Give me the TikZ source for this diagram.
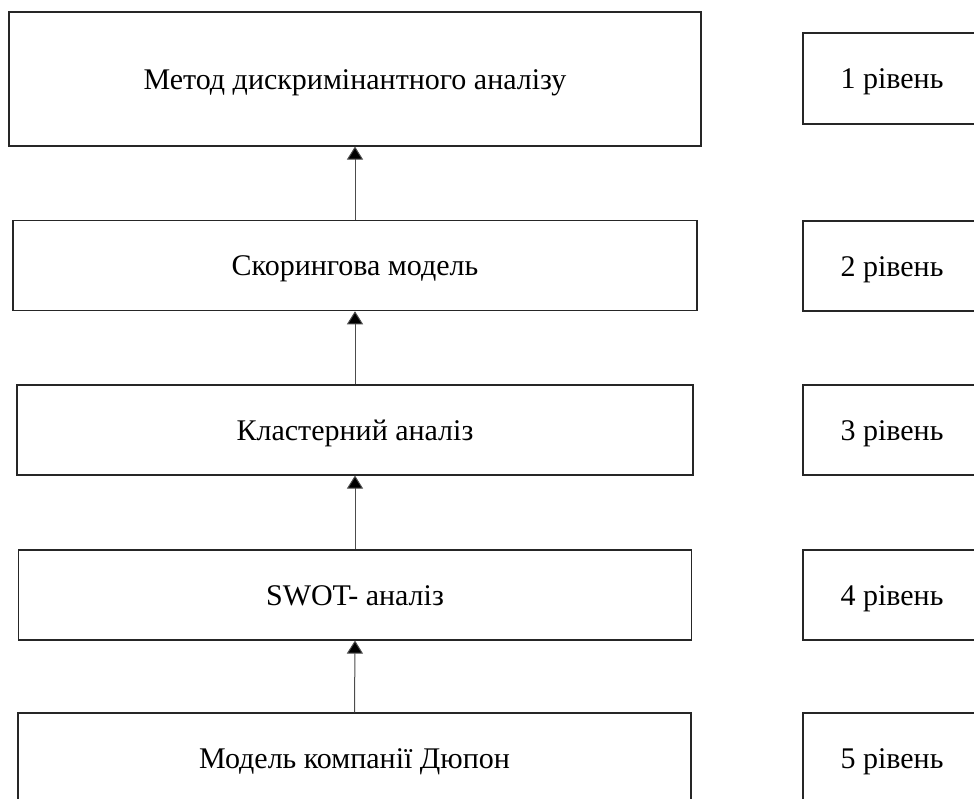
\documentclass[tikz,border=0pt]{standalone}
\usepackage{fontspec}
\setmainfont{Liberation Serif}
\usetikzlibrary{arrows.meta}
\begin{document}
\begin{tikzpicture}[x=1pt,y=-1pt,
  box/.style={draw=black!85, line width=1.1pt, fill=white, inner sep=0pt,
    font=\fontsize{30}{36}\selectfont, text height=20pt, text depth=0pt},
  levelbox/.style={box, minimum width=178, minimum height=90},
  link/.style={draw=black!70, line width=1pt,
    -{Triangle[width=16pt,length=13pt,fill=black]}}]
  \useasboundingbox (0,0) rectangle (974,798);
  \clip (0,0) rectangle (974,798);

  % method column
  \node[box, minimum width=692, minimum height=134] (m1) at (355,79) {Метод дискримінантного аналізу};
  \node[box, minimum width=684, minimum height=90] (m2) at (355,265.7) {Скорингова модель};
  \node[box, minimum width=676, minimum height=90] (m3) at (355,430) {Кластерний аналіз};
  \node[box, minimum width=673, minimum height=90] (m4) at (355,595) {SWOT- аналіз};
  \node[box, minimum width=673, minimum height=90] (m5) at (354.5,758) {Модель компанії Дюпон};

  % level column
  \node[levelbox, minimum height=91] (l1) at (892,78.5) {1 рівень};
  \node[levelbox] (l2) at (892,266) {2 рівень};
  \node[levelbox] (l3) at (892,430) {3 рівень};
  \node[levelbox] (l4) at (892,595) {4 рівень};
  \node[levelbox] (l5) at (892,758) {5 рівень};

  % upward links between methods
  \draw[link] (m2.north) -- (m1.south);
  \draw[link] (m3.north) -- (m2.south);
  \draw[link] (m4.north) -- (m3.south);
  \draw[link] (m5.north) -- (m4.south);
\end{tikzpicture}
\end{document}
